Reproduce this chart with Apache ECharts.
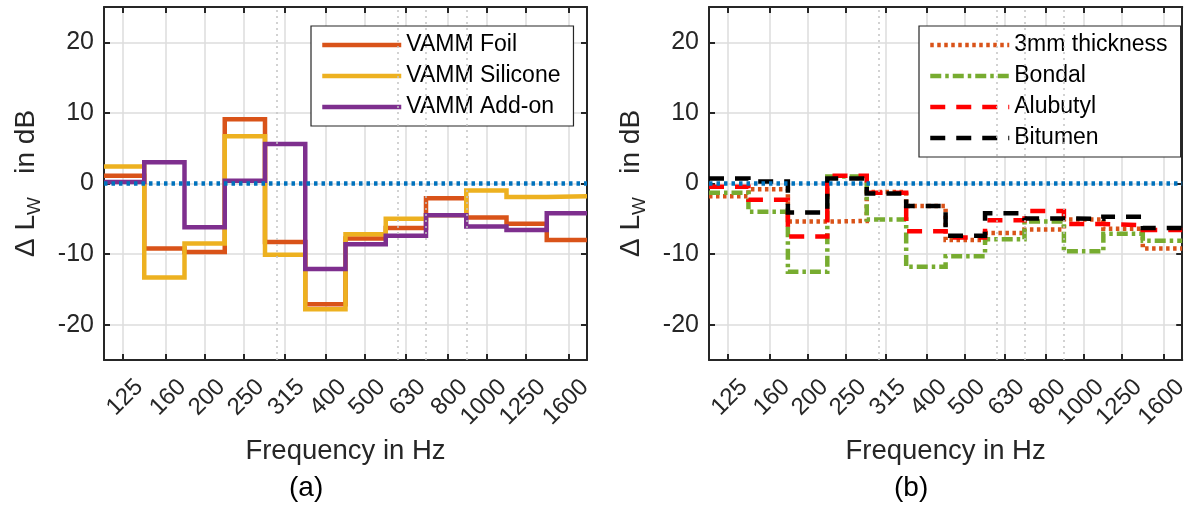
<!DOCTYPE html>
<html>
<head>
<meta charset="utf-8">
<script src="https://cdn.jsdelivr.net/npm/echarts@6/dist/echarts.min.js"></script>
<style>
  html, body { margin: 0; padding: 0; background: #fff; }
  #chart { width: 1191px; height: 508px; }
</style>
</head>
<body>
<div id="chart"></div>
<script>
// third-octave band centres (nominal) and grid values
const bands = [125, 160, 200, 250, 315, 400, 500, 630, 800, 1000, 1250, 1600];
const minorGrid = [200, 300, 400, 500, 600, 700, 800, 900, 1000];
const yTicks = [-20, -10, 0, 10, 20];

// panel (a)
const vammFoil     = [1.1, -9.2, -9.7, 9.1, -8.3, -17.1, -7.8, -6.3, -2.1, -4.8, -5.7, -8.0];
const vammSilicone = [2.4, -13.3, -8.5, 6.7, -10.1, -17.8, -7.2, -5.0, -4.5, -1.0, -1.9, -1.8];
const vammAddon    = [0.2, 3.0, -6.2, 0.4, 5.6, -12.1, -8.6, -7.4, -4.5, -6.1, -6.6, -4.2];

// panel (b)
const thickness3mm = [-1.8, -0.8, -5.4, -5.3, -1.2, -3.2, -8.0, -7.0, -6.5, -5.1, -6.4, -9.2];
const bondal       = [-1.3, -4.0, -12.5, 1.0, -5.1, -11.8, -10.3, -7.9, -5.4, -9.6, -7.1, -8.1];
const alubutyl     = [-0.45, -2.3, -7.5, 1.1, -1.3, -6.75, -7.65, -5.2, -3.9, -5.75, -5.9, -6.6];
const bitumen      = [0.7, 0.3, -4.1, 0.7, -1.4, -3.2, -7.4, -4.2, -4.95, -5.0, -4.7, -6.3];

const font = '"Liberation Sans", Arial, Helvetica, sans-serif';
const axisCol = '#262626';
const gridCol = '#dcdcdc';
const X_MIN = 2.05, X_MAX = 3.25;
const LW = 4.5;

const lg = (f) => Math.log10(f);
// exact band centre in log10 units, band edges are +-0.05 decade
const centre = (f) => Math.round(10 * Math.log10(f)) / 10;

function stepPoints(values) {
  const pts = values.map((v, i) => [centre(bands[i]) - 0.05, v]);
  pts.push([centre(bands[bands.length - 1]) + 0.05, values[values.length - 1]]);
  return pts;
}

const panelA = [
  { name: 'VAMM Foil', color: '#D95319', dash: 'solid', values: vammFoil },
  { name: 'VAMM Silicone', color: '#EDB120', dash: 'solid', values: vammSilicone },
  { name: 'VAMM Add-on', color: '#7E2F8E', dash: 'solid', values: vammAddon }
];
const panelB = [
  { name: '3mm thickness', color: '#D95319', dash: [3.5, 3.5], values: thickness3mm },
  { name: 'Bondal', color: '#77AC30', dash: [11, 4, 3.5, 4], values: bondal },
  { name: 'Alubutyl', color: '#FF0000', dash: [15, 11], values: alubutyl },
  { name: 'Bitumen', color: '#000000', dash: [15, 11], values: bitumen }
];

const grids = [
  { left: 104, top: 7, width: 483, height: 353 },
  { left: 709, top: 7, width: 482, height: 353 }
];

function xAxes(gi) {
  const line = { show: true, onZero: false, lineStyle: { color: axisCol, width: 2 } };
  const tick = { show: true, inside: true, length: 6, customValues: bands.map(lg), lineStyle: { color: axisCol, width: 2 } };
  return [
    {
      type: 'value', gridIndex: gi, position: 'bottom', min: X_MIN, max: X_MAX,
      axisLine: line, axisTick: tick,
      axisLabel: {
        customValues: bands.map(lg), rotate: 45, margin: 7, verticalAlign: 'top', padding: [11, 0, 0, 0],
        fontSize: 24, color: axisCol, fontFamily: font,
        formatter: (v) => String(Math.round(Math.pow(10, v)))
      },
      splitLine: { show: true, lineStyle: { color: gridCol, width: 1.5 } },
      name: 'Frequency in Hz', nameLocation: 'middle', nameGap: 77,
      nameTextStyle: { fontSize: 27.5, color: axisCol, fontFamily: font }
    },
    {
      type: 'value', gridIndex: gi, position: 'top', min: X_MIN, max: X_MAX,
      axisLine: line, axisTick: tick, axisLabel: { show: false }, splitLine: { show: false }
    }
  ];
}

function yAxes(gi) {
  const line = { show: true, onZero: false, lineStyle: { color: axisCol, width: 2 } };
  const tick = { show: true, inside: true, length: 6, customValues: yTicks, lineStyle: { color: axisCol, width: 2 } };
  return [
    {
      type: 'value', gridIndex: gi, position: 'left', min: -25, max: 25,
      axisLine: line, axisTick: tick,
      axisLabel: { customValues: yTicks, margin: 10, fontSize: 25, color: axisCol, fontFamily: font },
      splitLine: { show: true, lineStyle: { color: gridCol, width: 1.5 } },
      name: '{m|\u0394 L}{s|W}{m|   in dB}', nameLocation: 'middle', nameRotate: 90, nameGap: 60,
      nameTextStyle: {
        rich: {
          m: { fontSize: 28, color: axisCol, fontFamily: font, lineHeight: 36 },
          s: { fontSize: 19, color: axisCol, fontFamily: font, lineHeight: 36, verticalAlign: 'bottom' }
        }
      }
    },
    {
      type: 'value', gridIndex: gi, position: 'right', min: -25, max: 25,
      axisLine: line, axisTick: tick, axisLabel: { show: false }, splitLine: { show: false }
    }
  ];
}

function dataSeries(list, gi) {
  return list.map((s) => ({
    name: s.name, type: 'line', xAxisIndex: gi * 2, yAxisIndex: gi * 2,
    step: 'end', symbol: 'none', showSymbol: false, z: 3, animation: false,
    itemStyle: { color: s.color },
    lineStyle: { color: s.color, width: LW, type: s.dash, cap: 'butt', join: 'miter' },
    data: stepPoints(s.values)
  }));
}

function helperSeries(gi) {
  return [
    {
      type: 'line', xAxisIndex: gi * 2, yAxisIndex: gi * 2, data: [], z: 1, silent: true, animation: false,
      markLine: {
        silent: true, symbol: ['none', 'none'], label: { show: false }, animation: false,
        lineStyle: { color: '#c4c4c4', type: [2, 4], width: 1.5 },
        data: minorGrid.filter((f) => !bands.includes(f)).map((f) => ({ xAxis: lg(f) }))
      }
    },
    {
      type: 'line', xAxisIndex: gi * 2, yAxisIndex: gi * 2, data: [], z: 10, silent: true, animation: false,
      markLine: {
        silent: true, symbol: ['none', 'none'], label: { show: false }, animation: false,
        lineStyle: { color: '#0072BD', type: [3.5, 4], width: 4.5, cap: 'butt' },
        data: [{ yAxis: 0 }]
      }
    }
  ];
}

function legend(list, left) {
  return {
    data: list.map((s) => s.name), orient: 'vertical', left: left, top: 26,
    padding: [7, 13, 7, 9], itemWidth: 79, itemHeight: 2, itemGap: 7,
    backgroundColor: '#fff', borderColor: axisCol, borderWidth: 1.2, borderRadius: 0,
    itemStyle: { opacity: 0 },
    lineStyle: { width: LW },
    textStyle: { fontSize: 23, lineHeight: 24, color: '#000', fontFamily: font },
    selectedMode: false
  };
}

const chart = echarts.init(document.getElementById('chart'), null, { renderer: 'canvas' });
chart.setOption({
  backgroundColor: '#fff',
  animation: false,
  grid: grids,
  xAxis: [...xAxes(0), ...xAxes(1)],
  yAxis: [...yAxes(0), ...yAxes(1)],
  legend: [legend(panelA, 311), legend(panelB, 919)],
  series: [...helperSeries(0), ...dataSeries(panelA, 0), ...helperSeries(1), ...dataSeries(panelB, 1)],
  graphic: [
    { type: 'text', left: 289, top: 474, style: { text: '(a)', fontSize: 28, fill: '#000', fontFamily: font } },
    { type: 'text', left: 894, top: 474, style: { text: '(b)', fontSize: 28, fill: '#000', fontFamily: font } }
  ]
});
</script>
</body>
</html>
